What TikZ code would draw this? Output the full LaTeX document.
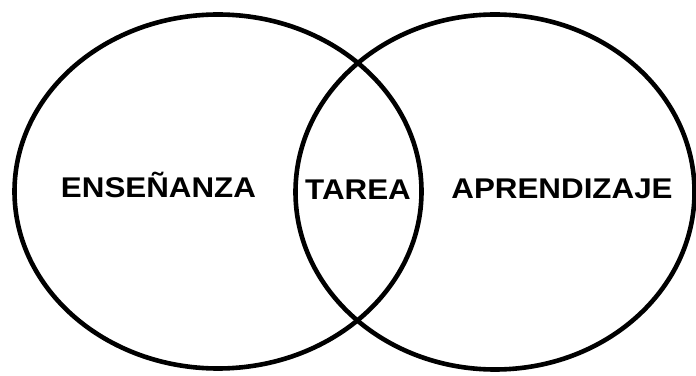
\documentclass[tikz,border=0pt]{standalone}
\usepackage{fontspec}
\setsansfont[FakeStretch=1.1]{Liberation Sans}
\usepackage{tikz}
\usetikzlibrary{shapes.geometric}

\begin{document}
\begin{tikzpicture}[x=1pt,y=1pt,
  set node/.style={ellipse,draw,line width=4.6pt,inner sep=0pt},
  word node/.style={font=\sffamily\bfseries\fontsize{28.5}{28.5}\selectfont,anchor=base,inner sep=0pt}]

  \useasboundingbox (0,0) rectangle (696,375);

  \node[set node,minimum width=407pt,minimum height=354pt] (1) at (218,183.5) {};
  \node[set node,minimum width=399pt,minimum height=355pt] (2) at (495,183) {};

  \node[word node] (3) at (158.5,177.5) {ENSEÑANZA};
  \node[word node] (4) at (358,175) {TAREA};
  \node[word node] (5) at (562,176) {APRENDIZAJE};

\end{tikzpicture}
\end{document}
